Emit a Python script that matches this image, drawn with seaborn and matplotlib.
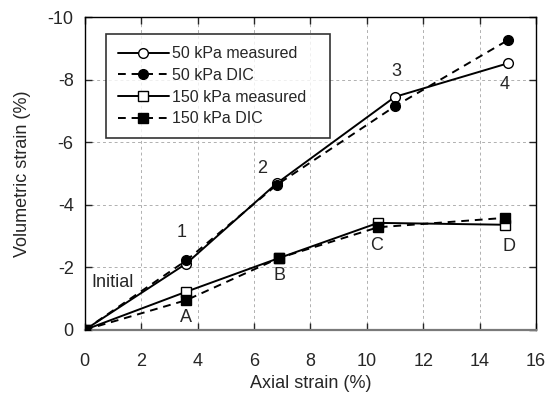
import matplotlib
matplotlib.use("Agg")
import matplotlib.pyplot as plt
import seaborn as sns
import pandas as pd

# Axial strain (%) and volumetric strain (%) at each stage
axial_50_meas = [0, 3.6, 6.8, 11.0, 15.0]
vol_50_meas = [0, -2.12, -4.68, -7.45, -8.52]
axial_50_dic = [0, 3.6, 6.8, 11.0, 15.0]
vol_50_dic = [0, -2.22, -4.63, -7.15, -9.26]
axial_150_meas = [0, 3.6, 6.9, 10.4, 14.9]
vol_150_meas = [0, -1.22, -2.3, -3.42, -3.36]
axial_150_dic = [0, 3.6, 6.9, 10.4, 14.9]
vol_150_dic = [0, -0.95, -2.3, -3.28, -3.58]

series_names = ["50 kPa measured", "50 kPa DIC", "150 kPa measured", "150 kPa DIC"]

# Stage labels with their positions
stage_labels = ["Initial", "1", "2", "3", "4", "A", "B", "C", "D"]
stage_x = [1.0, 3.45, 6.3, 11.05, 14.9, 3.6, 6.9, 10.35, 15.05]
stage_y = [-1.52, -3.1, -5.17, -8.27, -7.83, -0.4, -1.75, -2.7, -2.65]

sns.set_style("ticks")
plt.rcParams["font.family"] = ["Liberation Sans", "DejaVu Sans"]

fig = plt.figure(figsize=(5.47, 3.96), dpi=100)
ax = fig.add_axes([0.155, 0.167, 0.825, 0.79])

df = pd.concat([
    pd.DataFrame({"x": axial_50_meas, "y": vol_50_meas, "s": series_names[0]}),
    pd.DataFrame({"x": axial_50_dic, "y": vol_50_dic, "s": series_names[1]}),
    pd.DataFrame({"x": axial_150_meas, "y": vol_150_meas, "s": series_names[2]}),
    pd.DataFrame({"x": axial_150_dic, "y": vol_150_dic, "s": series_names[3]}),
])

styles = {
    series_names[0]: dict(ls="-", marker="o", mfc="white", ms=7),
    series_names[1]: dict(ls=(0, (4, 3)), marker="o", mfc="black", ms=7),
    series_names[2]: dict(ls="-", marker="s", mfc="white", ms=7),
    series_names[3]: dict(ls=(0, (4, 3)), marker="s", mfc="black", ms=7.5),
}

for name in series_names:
    st = styles[name]
    sub = df[df["s"] == name]
    sns.lineplot(data=sub, x="x", y="y", ax=ax, color="black", lw=1.4,
                 linestyle=st["ls"], marker=st["marker"], markersize=st["ms"],
                 markerfacecolor=st["mfc"], markeredgecolor="black",
                 markeredgewidth=1.0, label=name, sort=False, estimator=None,
                 zorder=3)

for t, x, y in zip(stage_labels, stage_x, stage_y):
    ax.text(x, y, t, ha="center", va="center", fontsize=13)

ax.set_xlim(0, 16)
ax.set_ylim(0, -10)
ax.set_xticks(range(0, 17, 2))
ax.set_yticks(range(0, -11, -2))
ax.set_yticklabels([str(v) for v in range(0, -11, -2)])
ax.grid(True, color="#b0b0b0", ls=(0, (3, 3)), lw=0.7)
ax.tick_params(direction="in", top=True, right=True, labelsize=13,
               length=5, width=1)
ax.tick_params(axis="x", pad=17)
ax.tick_params(axis="y", pad=8)
for sp in ax.spines.values():
    sp.set_color("black")
    sp.set_linewidth(1.0)
ax.spines["bottom"].set_color("#7a7a7a")
ax.spines["bottom"].set_linewidth(1.6)
ax.set_xlabel("Axial strain (%)", fontsize=13, labelpad=3)
ax.set_ylabel("Volumetric strain (%)", fontsize=13, labelpad=12)

leg = ax.legend(loc="upper left", bbox_to_anchor=(0.0466, 0.5, 0.497, 0.445),
                mode="expand", fontsize=11.5,
                frameon=True, fancybox=False, edgecolor="black",
                handlelength=3.2, handletextpad=0.2, borderpad=0.75,
                labelspacing=0.42, borderaxespad=0)
leg.get_frame().set_linewidth(1.2)

fig.savefig("out.png", dpi=100)
